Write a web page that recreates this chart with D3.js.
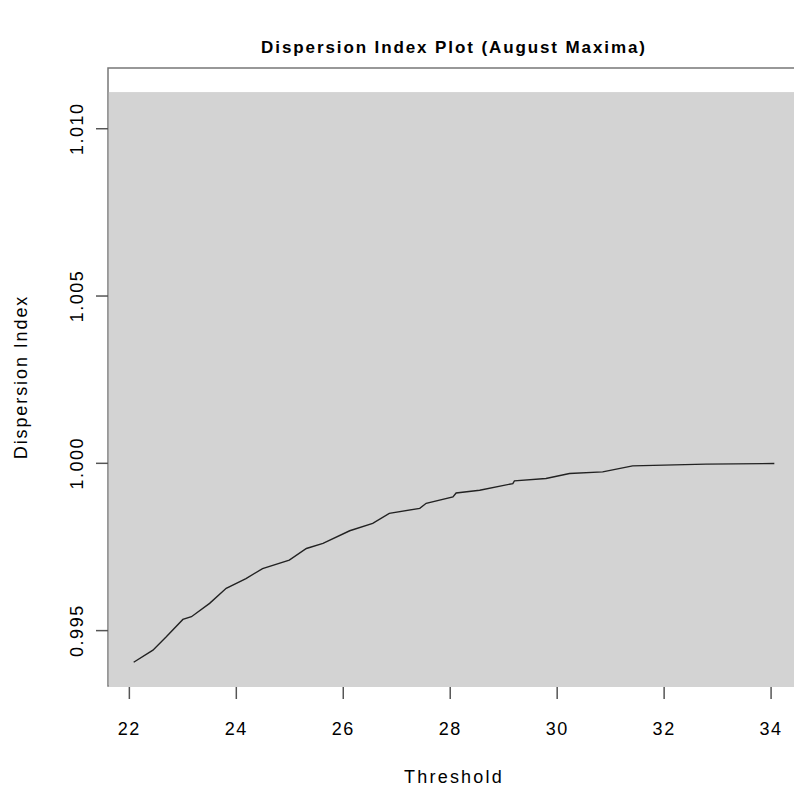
<html>
<script src="https://d3js.org/d3.v7.min.js"></script>
<style>
  body { margin: 0; background: #fff; }
  text { font-family: "Liberation Sans", Arial, sans-serif; fill: #000; }
</style>
<body>
</body>
</html>

<script type="text/javascript">

// threshold and dispersion index
var threshold = [22.09, 22.45, 22.70, 23.01, 23.17, 23.51, 23.82, 24.19, 24.50, 25.00,
                 25.32, 25.63, 26.13, 26.56, 26.87, 27.44, 27.56, 28.06, 28.12, 28.56,
                 29.18, 29.21, 29.80, 30.24, 30.86, 31.42, 32.79, 34.07];
var dispersion = [0.99404, 0.99440, 0.99480, 0.99532, 0.99540, 0.99580, 0.99625, 0.99654, 0.99684, 0.99709,
                  0.99744, 0.99759, 0.99797, 0.99819, 0.99849, 0.99864, 0.99879, 0.99898, 0.99910, 0.99918,
                  0.99938, 0.99946, 0.99953, 0.99968, 0.99973, 0.99991, 0.99996, 0.99998];
var xTicks = [22, 24, 26, 28, 30, 32, 34];
var yTicks = [0.995, 1.000, 1.005, 1.010];

var data = threshold.map(function(t, i){ return {x: t, y: dispersion[i]}; });

var W = 794, H = 787;
var pLeft = 108, pTop = 68, pRight = 800, pBottom = 686;

var svg = d3.select("body")
	.append("svg")
	.attr("width", W)
	.attr("height", H);

// map threshold to X, dispersion index to Y (R style 4% padding)
var x_scale = d3.scaleLinear()
	.domain([21.61, 34.55])
	.range([pLeft, pRight]);

var y_scale = d3.scaleLinear()
	.domain([0.99333, 1.0118])
	.range([pBottom, pTop]);

// plot box (top + left visible)
svg.append("rect")
	.attr("x", pLeft)
	.attr("y", pTop)
	.attr("width", pRight - pLeft)
	.attr("height", pBottom - pTop)
	.attr("fill", "none")
	.attr("stroke", "#777")
	.attr("stroke-width", 1.5);

// grey panel drawn over the box
var panelTop = y_scale(1.01108);
svg.append("rect")
	.attr("x", pLeft + 0.8)
	.attr("y", panelTop)
	.attr("width", W)
	.attr("height", pBottom + 1 - panelTop)
	.attr("fill", "#d3d3d3");

// X axis
var xAxis = svg.append("g")
	.attr("transform", "translate(0," + (pBottom + 1) + ")")
	.call(d3.axisBottom(x_scale).tickValues(xTicks).tickSize(12).tickPadding(23).tickFormat(d3.format("d")));
xAxis.select(".domain").remove();
xAxis.selectAll("line").attr("stroke", "#555").attr("stroke-width", 1.5);
xAxis.selectAll("text")
	.attr("font-size", 18)
	.attr("letter-spacing", 1.5)
	.attr("font-family", "Liberation Sans, Arial, sans-serif");

// Y axis
var yAxis = svg.append("g")
	.attr("transform", "translate(" + pLeft + ",0)")
	.call(d3.axisLeft(y_scale).tickValues(yTicks).tickSize(12).tickFormat(d3.format(".3f")));
yAxis.select(".domain").remove();
yAxis.selectAll("line").attr("stroke", "#555").attr("stroke-width", 1.5);
yAxis.selectAll("text")
	.attr("x", 0)
	.attr("font-size", 18)
	.attr("letter-spacing", 1.5)
	.attr("font-family", "Liberation Sans, Arial, sans-serif")
	.attr("text-anchor", "middle")
	.attr("transform", "translate(-31,0) rotate(-90)")
	.attr("dy", "0.35em");

// dispersion index line
svg.append("path")
	.datum(data)
	.attr("fill", "none")
	.attr("stroke", "#222")
	.attr("stroke-width", 1.4)
	.attr("d", d3.line()
		.x(function(d){ return x_scale(d.x); })
		.y(function(d){ return y_scale(d.y); }));

// titles
svg.append("text")
	.attr("x", (pLeft + pRight) / 2)
	.attr("y", 53)
	.attr("text-anchor", "middle")
	.attr("font-size", 17)
	.attr("font-weight", "bold")
	.attr("letter-spacing", 1.9)
	.text("Dispersion Index Plot (August Maxima)");

svg.append("text")
	.attr("x", (pLeft + pRight) / 2)
	.attr("y", 783)
	.attr("text-anchor", "middle")
	.attr("font-size", 18)
	.attr("letter-spacing", 2.2)
	.text("Threshold");

svg.append("text")
	.attr("transform", "translate(27," + ((pTop + pBottom) / 2) + ") rotate(-90)")
	.attr("text-anchor", "middle")
	.attr("font-size", 18)
	.attr("letter-spacing", 1.9)
	.text("Dispersion Index");
</script>
